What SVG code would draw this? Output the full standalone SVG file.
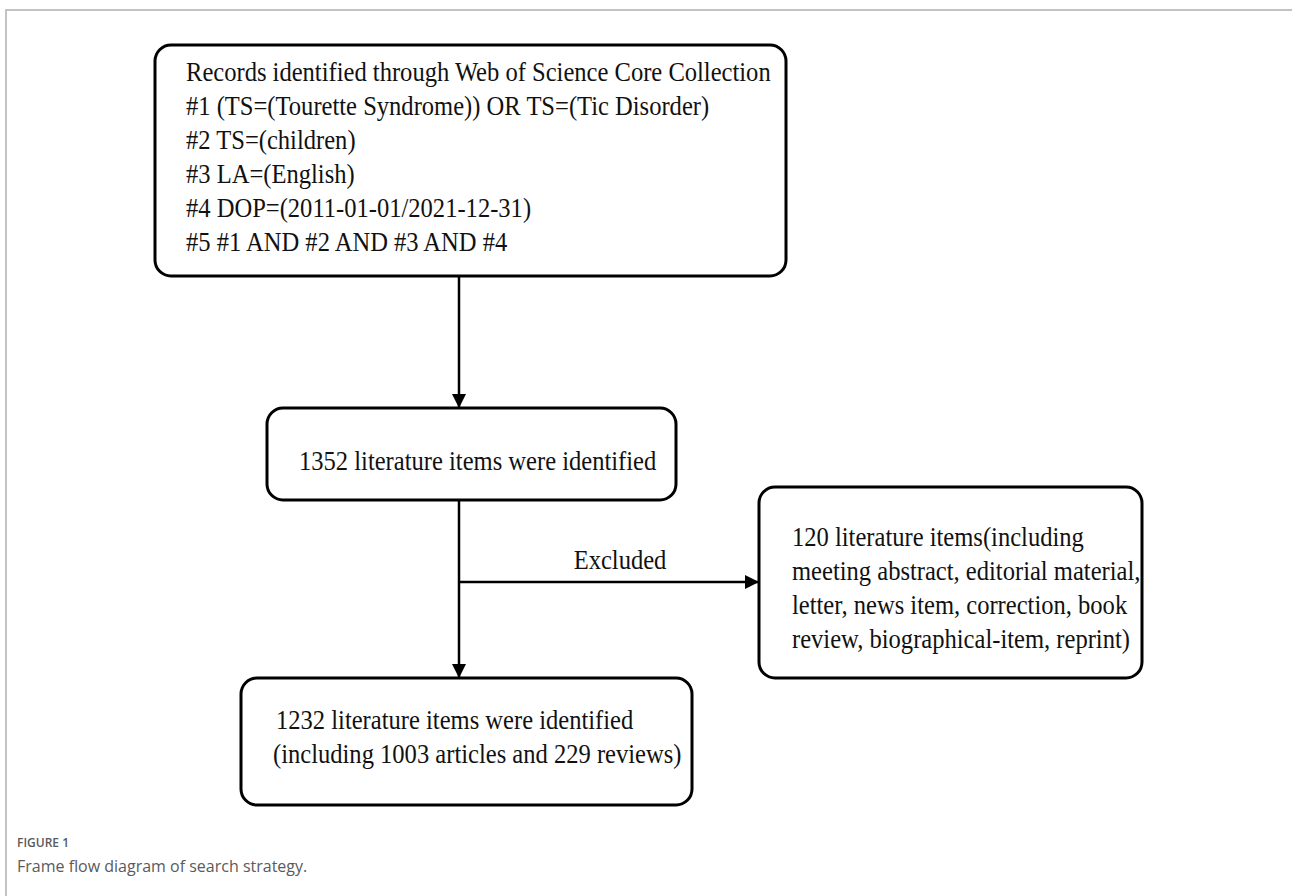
<svg xmlns="http://www.w3.org/2000/svg" width="1292" height="896" viewBox="0 0 1292 896">
<style>
.box{fill:#fff;stroke:#000;stroke-width:3}
.t{font-family:"Liberation Serif","Times New Roman",serif;font-size:27px;fill:#111}
.c{stroke:#000;stroke-width:2.5;fill:none}
.cap{font-family:"Open Sans","Noto Sans",sans-serif;fill:#5a5a5a}
</style>
<defs>
<marker id="ah" markerWidth="14" markerHeight="14" refX="14" refY="7" orient="auto" markerUnits="userSpaceOnUse" viewBox="0 0 14 14">
<path d="M0,0 L14,7 L0,14 Z" fill="#000"/>
</marker>
</defs>
<rect width="1292" height="896" fill="#fff"/>
<path d="M6,896 V10 H1292" fill="none" stroke="#b0b0b0" stroke-width="1.5"/>
<g id="connectors">
<line class="c" x1="459" y1="276" x2="459" y2="408" marker-end="url(#ah)"/>
<line class="c" x1="459" y1="500" x2="459" y2="678" marker-end="url(#ah)"/>
<line class="c" x1="459" y1="582" x2="759" y2="582" marker-end="url(#ah)"/>
<text class="t" transform="translate(620,569) scale(0.91,1)" text-anchor="middle">Excluded</text>
</g>
<g id="box1">
<rect class="box" x="155" y="45" width="631" height="231" rx="16"/>
<text class="t" transform="translate(186,81) scale(0.91,1)">Records identified through Web of Science Core Collection</text>
<text class="t" transform="translate(186,115) scale(0.91,1)">#1 (TS=(Tourette Syndrome)) OR TS=(Tic Disorder)</text>
<text class="t" transform="translate(186,149) scale(0.91,1)">#2 TS=(children)</text>
<text class="t" transform="translate(186,183) scale(0.91,1)">#3 LA=(English)</text>
<text class="t" transform="translate(186,217) scale(0.91,1)">#4 DOP=(2011-01-01/2021-12-31)</text>
<text class="t" transform="translate(186,251) scale(0.91,1)">#5 #1 AND #2 AND #3 AND #4</text>
</g>
<g id="box2">
<rect class="box" x="267" y="408" width="409" height="92" rx="16"/>
<text class="t" transform="translate(299,470) scale(0.91,1)">1352 literature items were identified</text>
</g>
<g id="box3">
<rect class="box" x="759" y="487" width="383" height="191" rx="16"/>
<text class="t" transform="translate(792,546) scale(0.91,1)">120 literature items(including</text>
<text class="t" transform="translate(792,580) scale(0.91,1)">meeting abstract, editorial material,</text>
<text class="t" transform="translate(792,614) scale(0.91,1)">letter, news item, correction, book</text>
<text class="t" transform="translate(792,648) scale(0.91,1)">review, biographical-item, reprint)</text>
</g>
<g id="box4">
<rect class="box" x="241" y="678" width="451" height="127" rx="16"/>
<text class="t" transform="translate(276,729) scale(0.91,1)">1232 literature items were identified</text>
<text class="t" transform="translate(273,763) scale(0.91,1)">(including 1003 articles and 229 reviews)</text>
</g>
<g id="caption">
<text class="cap" x="17" y="847" font-size="12" font-weight="600">FIGURE 1</text>
<text class="cap" x="17" y="872" font-size="16">Frame flow diagram of search strategy.</text>
</g>
</svg>
